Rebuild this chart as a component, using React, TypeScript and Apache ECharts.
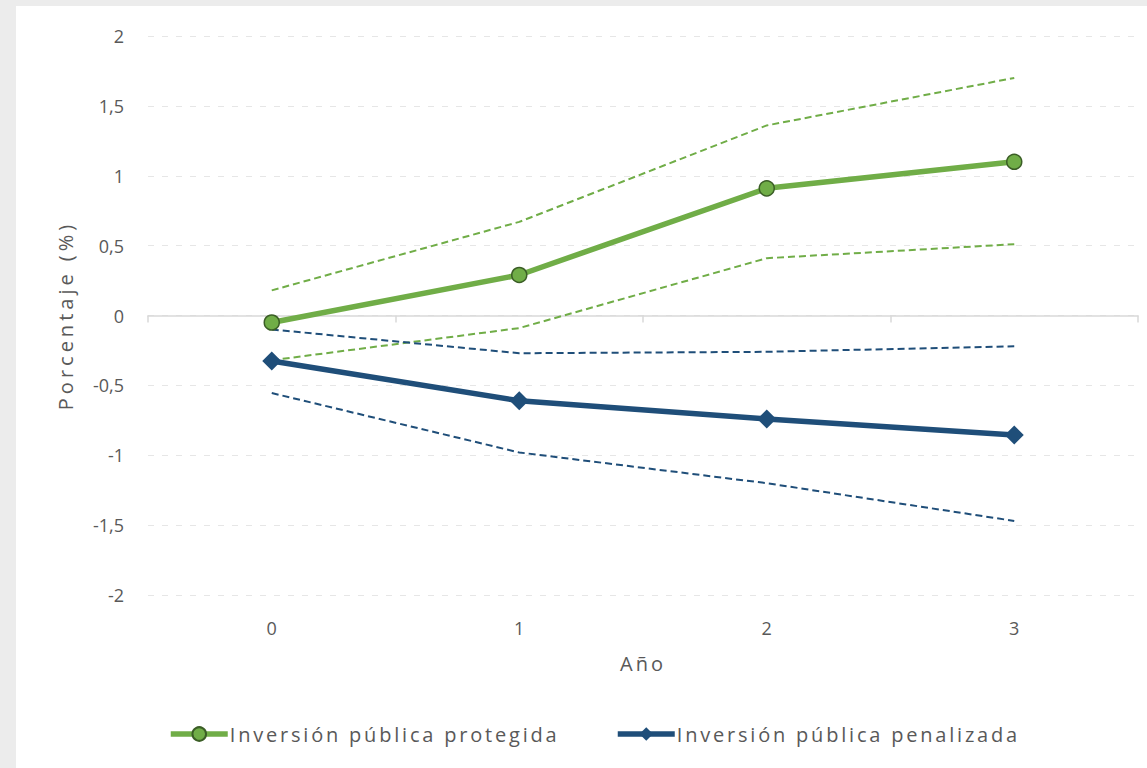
import React, { useEffect, useRef } from "react";
import * as echarts from "echarts";

const years = ["0", "1", "2", "3"];
const protegida = [-0.05, 0.29, 0.91, 1.1];
const protegidaAlta = [0.18, 0.67, 1.36, 1.7];
const protegidaBaja = [-0.32, -0.09, 0.41, 0.51];
const penalizada = [-0.325, -0.61, -0.74, -0.855];
const penalizadaAlta = [-0.1, -0.27, -0.26, -0.22];
const penalizadaBaja = [-0.555, -0.98, -1.2, -1.47];

const GREEN = "#70ad47";
const GREEN_DARK = "#3b5e26";
const BLUE = "#1f4e79";
const FONT = "'Open Sans', 'Noto Sans', sans-serif";

const NAME_A = "Inversión pública protegida";
const NAME_B = "Inversión pública penalizada";

const spacing: Record<string, string> = {
  "Porcentaje (%)": "4px",
  "Año": "3px",
  [NAME_A]: "2.8px",
  [NAME_B]: "2.8px",
};

export default function App() {
  const ref = useRef<HTMLDivElement>(null);
  useEffect(() => {
    if (!ref.current) return;
    const chart = echarts.init(ref.current, undefined, { renderer: "svg" });
    const dashed = (name: string, data: number[], color: string) => ({
      name,
      type: "line",
      data,
      symbol: "none",
      silent: true,
      lineStyle: { color, width: 2, type: [7, 4] },
      z: 2,
    });
    const legendBase = {
      top: 713,
      itemWidth: 57,
      itemHeight: 17,
      itemGap: 0,
      lineStyle: { width: 5.5 },
      textStyle: { fontSize: 20, color: "#595959", fontFamily: FONT, padding: [0, 0, 0, -3] },
    };
    chart.setOption({
      animation: false,
      backgroundColor: "#ffffff",
      textStyle: { fontFamily: FONT },
      grid: { left: 132, right: 9, top: 30, bottom: 173 },
      legend: [
        { ...legendBase, data: [NAME_A], left: 147 },
        { ...legendBase, data: [NAME_B], left: 594 },
      ],
      xAxis: [
        {
          type: "category",
          data: years,
          position: "bottom",
          axisLine: { show: false, onZero: false },
          axisTick: { show: false },
          axisLabel: { fontSize: 18, color: "#595959", margin: 24 },
          name: "Año",
          nameLocation: "middle",
          nameGap: 58,
          nameTextStyle: { fontSize: 20, color: "#595959" },
        },
        {
          type: "category",
          data: years,
          position: "bottom",
          axisLine: { show: true, onZero: true, lineStyle: { color: "#d9d9d9", width: 1.5 } },
          axisTick: { show: true, length: 7, lineStyle: { color: "#d9d9d9", width: 1.5 } },
          axisLabel: { show: false },
        },
      ],
      yAxis: {
        type: "value",
        min: -2,
        max: 2,
        interval: 0.5,
        axisLine: { show: false },
        axisTick: { show: false },
        axisLabel: {
          fontSize: 18,
          color: "#595959",
          margin: 24,
          formatter: (v: number) => String(v).replace(".", ","),
        },
        splitLine: { lineStyle: { color: "#e6e6e6", width: 1.2, type: [6, 8] } },
        name: "Porcentaje (%)",
        nameLocation: "middle",
        nameGap: 73,
        nameTextStyle: { fontSize: 20, color: "#595959" },
      },
      series: [
        dashed("protegidaAlta", protegidaAlta, GREEN),
        dashed("protegidaBaja", protegidaBaja, GREEN),
        dashed("penalizadaAlta", penalizadaAlta, BLUE),
        dashed("penalizadaBaja", penalizadaBaja, BLUE),
        {
          name: NAME_A,
          type: "line",
          data: protegida,
          symbol: "circle",
          symbolSize: 15,
          itemStyle: { color: GREEN, borderColor: GREEN_DARK, borderWidth: 1.5 },
          lineStyle: { color: GREEN, width: 5.5 },
          z: 4,
        },
        {
          name: NAME_B,
          type: "line",
          data: penalizada,
          symbol: "diamond",
          symbolSize: 19,
          itemStyle: { color: BLUE },
          lineStyle: { color: BLUE, width: 5.5 },
          z: 3,
        },
      ],
    });
    const applySpacing = () => {
      ref.current?.querySelectorAll("text").forEach((t) => {
        const s = spacing[(t.textContent || "").trim()];
        if (s) (t as SVGTextElement).style.letterSpacing = s;
      });
    };
    applySpacing();
    chart.on("finished", applySpacing);
    return () => chart.dispose();
  }, []);
  return (
    <div style={{ position: "fixed", left: 0, top: 0, width: 1147, height: 768, background: "#ececec" }}>
      <div ref={ref} style={{ position: "absolute", left: 16, top: 6, width: 1131, height: 762 }} />
    </div>
  );
}
